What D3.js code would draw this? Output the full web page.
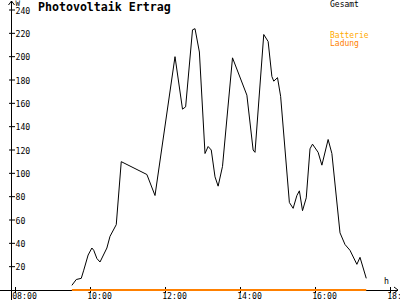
<!DOCTYPE html>
<html>
<head>
<meta charset="utf-8">
<script src="https://cdn.jsdelivr.net/npm/d3@7"></script>
<style>
  body { margin: 0; background: #fff; }
  text { font-family: "DejaVu Sans Mono", monospace; }
</style>
</head>
<body>
<svg class="chart" width="400" height="300"></svg>
<script>
// sample times and total power (W)
const times = [
  '09:31', '09:38', '09:46', '09:50', '09:57', '10:03', '10:06', '10:11', '10:16', '10:27',
  '10:32', '10:42', '10:50', '11:31', '11:44', '12:16', '12:28', '12:33', '12:44', '12:48',
  '12:55', '13:04', '13:09', '13:14', '13:20', '13:25', '13:32', '13:48', '14:11', '14:21',
  '14:24', '14:38', '14:45', '14:51', '14:54', '15:00', '15:05', '15:19', '15:25', '15:31',
  '15:35', '15:40', '15:46', '15:52', '15:56', '16:05', '16:11', '16:21', '16:27', '16:40',
  '16:48', '16:56', '17:07', '17:12', '17:22'
]
const gesamt = [
  4, 9, 10, 17, 30, 36, 34, 27, 24, 36,
  46, 56, 110, 99, 81, 200, 155, 157, 223, 224,
  204, 117, 123, 120, 97, 89, 106, 199, 167, 120,
  118, 219, 213, 183, 179, 182, 166, 75, 70, 81,
  85, 68, 79, 121, 125, 118, 107, 129, 117, 49,
  39, 34, 22, 28, 10
]
// battery charge: flat zero over the whole day
const ladungTimes = ['09:31', '17:22']
const ladung = [0, 0]

const xTicks = ['08:00', '10:00', '12:00', '14:00', '16:00', '18:00']
const yTicks = [20, 40, 60, 80, 100, 120, 140, 160, 180, 200, 220, 240]

const parse = d3.timeParse('%H:%M')
const fmt = d3.timeFormat('%H:%M')

const svg = d3.select('.chart')

const x = d3.scaleTime()
  .domain([parse('08:00'), parse('18:00')])
  .range([15, 390])

const y = d3.scaleLinear()
  .domain([0, 240])
  .range([290, 10])

// x axis
let xAxis = svg.append('g')
  .attr('transform', `translate(0,${y(0)})`)
  .call(d3.axisBottom(x)
    .tickValues(xTicks.map(parse))
    .tickFormat(fmt)
    .tickSizeInner(3)
    .tickSizeOuter(0))
xAxis.select('.domain').remove()
xAxis.selectAll('.tick line').attr('y1', -3).attr('stroke', '#000')
xAxis.selectAll('.tick text')
  .attr('font-size', 8.2)
  .attr('font-family', '"DejaVu Sans Mono", monospace')
  .attr('dx', 9)
  .attr('dy', 9)
  .attr('y', 0)
  .attr('fill', '#000')

svg.append('line')
  .attr('x1', 0).attr('x2', 398)
  .attr('y1', y(0)).attr('y2', y(0))
  .attr('stroke', '#000')
  .attr('shape-rendering', 'crispEdges')
svg.append('path')
  .attr('d', `M394,${y(0) - 3}L398,${y(0)}L394,${y(0) + 3}`)
  .attr('fill', 'none')
  .attr('stroke', '#000')

// y axis
svg.append('line')
  .attr('x1', 11.5).attr('x2', 11.5)
  .attr('y1', 1).attr('y2', 300)
  .attr('stroke', '#000')
svg.append('path')
  .attr('d', 'M8.5,5L11.5,1L14.5,5')
  .attr('fill', 'none')
  .attr('stroke', '#000')

let yt = svg.selectAll('.y-tick')
  .data(yTicks)
  .enter()
  .append('g')
  .classed('y-tick', true)
  .attr('transform', d => `translate(0,${y(d)})`)
yt.append('line')
  .attr('x1', 9).attr('x2', 15)
  .attr('stroke', '#000')
yt.append('text')
  .text(d => d)
  .attr('x', 15.5)
  .attr('dy', 3.5)
  .attr('font-size', 8.2)

// unit labels
svg.append('text').text('W')
  .attr('x', 15.5).attr('y', 5.5).attr('font-size', 7.5)
svg.append('text').text('h')
  .attr('x', 384).attr('y', 284).attr('font-size', 8.2)

// title
svg.append('text').text('Photovoltaik Ertrag')
  .attr('x', 38).attr('y', 11)
  .attr('font-size', 11.6)
  .attr('font-weight', 'bold')

// legend
svg.append('text').text('Gesamt')
  .attr('x', 330).attr('y', 7).attr('font-size', 8)
svg.append('text').text('Batterie')
  .attr('x', 330).attr('y', 38).attr('font-size', 8).attr('fill', '#ffaa00')
svg.append('text').text('Ladung')
  .attr('x', 330).attr('y', 46).attr('font-size', 8).attr('fill', '#ff8000')

// series
let line = d3.line()
  .x(d => x(d[0]))
  .y(d => y(d[1]))

svg.append('path')
  .datum(ladungTimes.map((t, i) => [parse(t), ladung[i]]))
  .attr('d', line)
  .attr('fill', 'none')
  .attr('stroke', '#ff8000')
  .attr('stroke-width', 2)

svg.append('path')
  .datum(times.map((t, i) => [parse(t), gesamt[i]]))
  .attr('d', line)
  .attr('fill', 'none')
  .attr('stroke', '#000')
  .attr('stroke-width', 1)
</script>
</body>
</html>
